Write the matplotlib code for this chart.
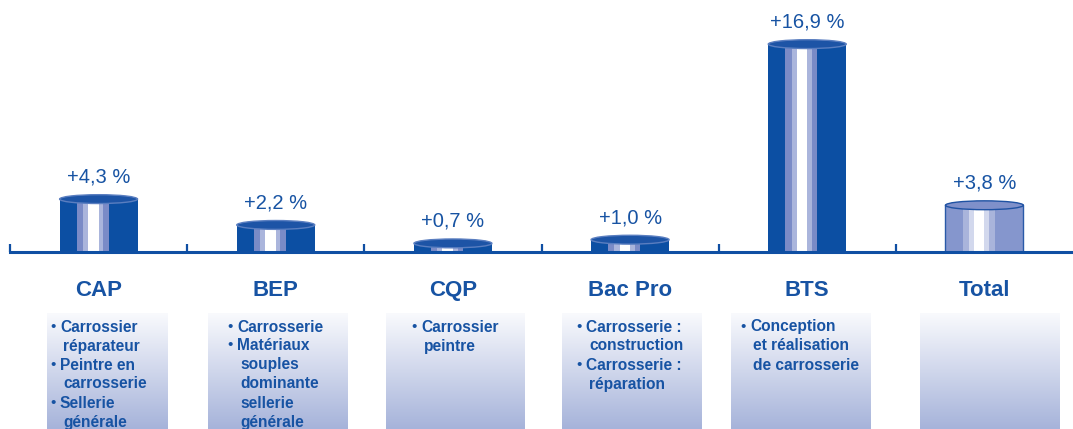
import numpy as np
import matplotlib.pyplot as plt
from matplotlib.patches import Ellipse
from matplotlib.colors import LinearSegmentedColormap

categories = ["CAP", "BEP", "CQP", "Bac Pro", "BTS", "Total"]
values = [4.3, 2.2, 0.7, 1.0, 16.9, 3.8]
labels = ["+4,3 %", "+2,2 %", "+0,7 %", "+1,0 %", "+16,9 %", "+3,8 %"]
diplomas = [
    [["Carrossier", "réparateur"], ["Peintre en", "carrosserie"], ["Sellerie", "générale"]],
    [["Carrosserie"], ["Matériaux", "souples", "dominante", "sellerie", "générale"]],
    [["Carrossier", "peintre"]],
    [["Carrosserie :", "construction"], ["Carrosserie :", "réparation"]],
    [["Conception", "et réalisation", "de carrosserie"]],
    [],
]

plt.rcParams['font.family'] = ['Liberation Sans', 'DejaVu Sans']
blue = '#0f4fa3'
txt_blue = '#1753a3'

W, H = 1073, 429
base_px = 252
fig = plt.figure(figsize=(W / 100, H / 100), dpi=100)

# background layer in pixel coords for the description boxes
bg = fig.add_axes([0, 0, 1, 1])
bg.set_xlim(0, W)
bg.set_ylim(H, 0)
bg.axis('off')

ax = fig.add_axes([10 / W, (H - base_px) / H, 1 - 10 / W, base_px / H])
ax.patch.set_alpha(0)
ytop = base_px / 12.3
ax.set_xlim(-0.5, 5.5)
ax.set_ylim(0, ytop)

# cylinder stripes (fractions of width) : dark / mid / light / white
stripes = [(0.0, 0.22, 0), (0.22, 0.30, 1), (0.30, 0.365, 2), (0.365, 0.50, 3),
           (0.50, 0.56, 2), (0.56, 0.63, 1), (0.63, 1.0, 0)]
pal_dark = ['#0c4fa3', '#7a8bc7', '#aab5dc', '#ffffff']
pal_total = ['#8596cd', '#a9b4db', '#d2d8ed', '#ffffff']
bw = 0.44
eh = 0.72

for i, v in enumerate(values):
    pal = pal_total if categories[i] == "Total" else pal_dark
    for f0, f1, c in stripes:
        ax.bar(i - bw / 2 + f0 * bw, v, (f1 - f0) * bw, align='edge',
               color=pal[c], linewidth=0, zorder=2)
    if categories[i] == "Total":
        ax.bar(i, v, bw, fill=False, edgecolor='#2a5aa8', linewidth=1.0, zorder=3)
        ax.add_patch(Ellipse((i, v), bw, eh, facecolor='#7f90ca',
                             edgecolor='#1f52a3', linewidth=1.0, zorder=4))
    else:
        ax.add_patch(Ellipse((i, v), bw, eh, facecolor='#1d54a6',
                             edgecolor='#5a7ec0', linewidth=1.0, zorder=4))
    ax.annotate(labels[i], (i, v), xytext=(0, 9), textcoords='offset points',
                ha='center', va='bottom', fontsize=14.5, color=txt_blue)

for s in ['top', 'right', 'left']:
    ax.spines[s].set_visible(False)
ax.spines['bottom'].set_color(blue)
ax.spines['bottom'].set_linewidth(2.2)
ax.spines['bottom'].set_zorder(5)
ax.set_yticks([])
ax.set_xticks(range(len(categories)))
ax.set_xticklabels(categories, fontsize=16, fontweight='bold', color=txt_blue)
ax.tick_params(axis='x', which='major', length=0, pad=20)
ax.set_xticks(np.arange(-0.5, 5.0, 1.0), minor=True)
ax.tick_params(axis='x', which='minor', direction='in', length=5.5, width=1.6, color=blue)

# description boxes
cmap = LinearSegmentedColormap.from_list('box', ['#f9fafd', '#a6b3da'])
grad = np.linspace(0, 1, 200).reshape(-1, 1)
box_left = [47, 208, 386, 562, 731, 920]
box_w = [121, 140, 139, 140, 140, 140]
text_x = [60, 237, 421, 586, 750, None]
for i in range(len(categories)):
    bg.imshow(grad, cmap=cmap, aspect='auto',
              extent=(box_left[i], box_left[i] + box_w[i], H, 313), zorder=1)
    row = 0
    for item in diplomas[i]:
        for k, line in enumerate(item):
            y = 331.5 + 19 * row
            if k == 0:
                bg.text(text_x[i] - 10, y - 1, "•", fontsize=11, color=txt_blue,
                        ha='left', va='baseline', zorder=3)
                bg.text(text_x[i], y, line, fontsize=11.2, fontweight='bold',
                        color=txt_blue, ha='left', va='baseline', zorder=3)
            else:
                bg.text(text_x[i] + 3, y, line, fontsize=11.2, fontweight='bold',
                        color=txt_blue, ha='left', va='baseline', zorder=3)
            row += 1

fig.savefig('out.png', dpi=100)
